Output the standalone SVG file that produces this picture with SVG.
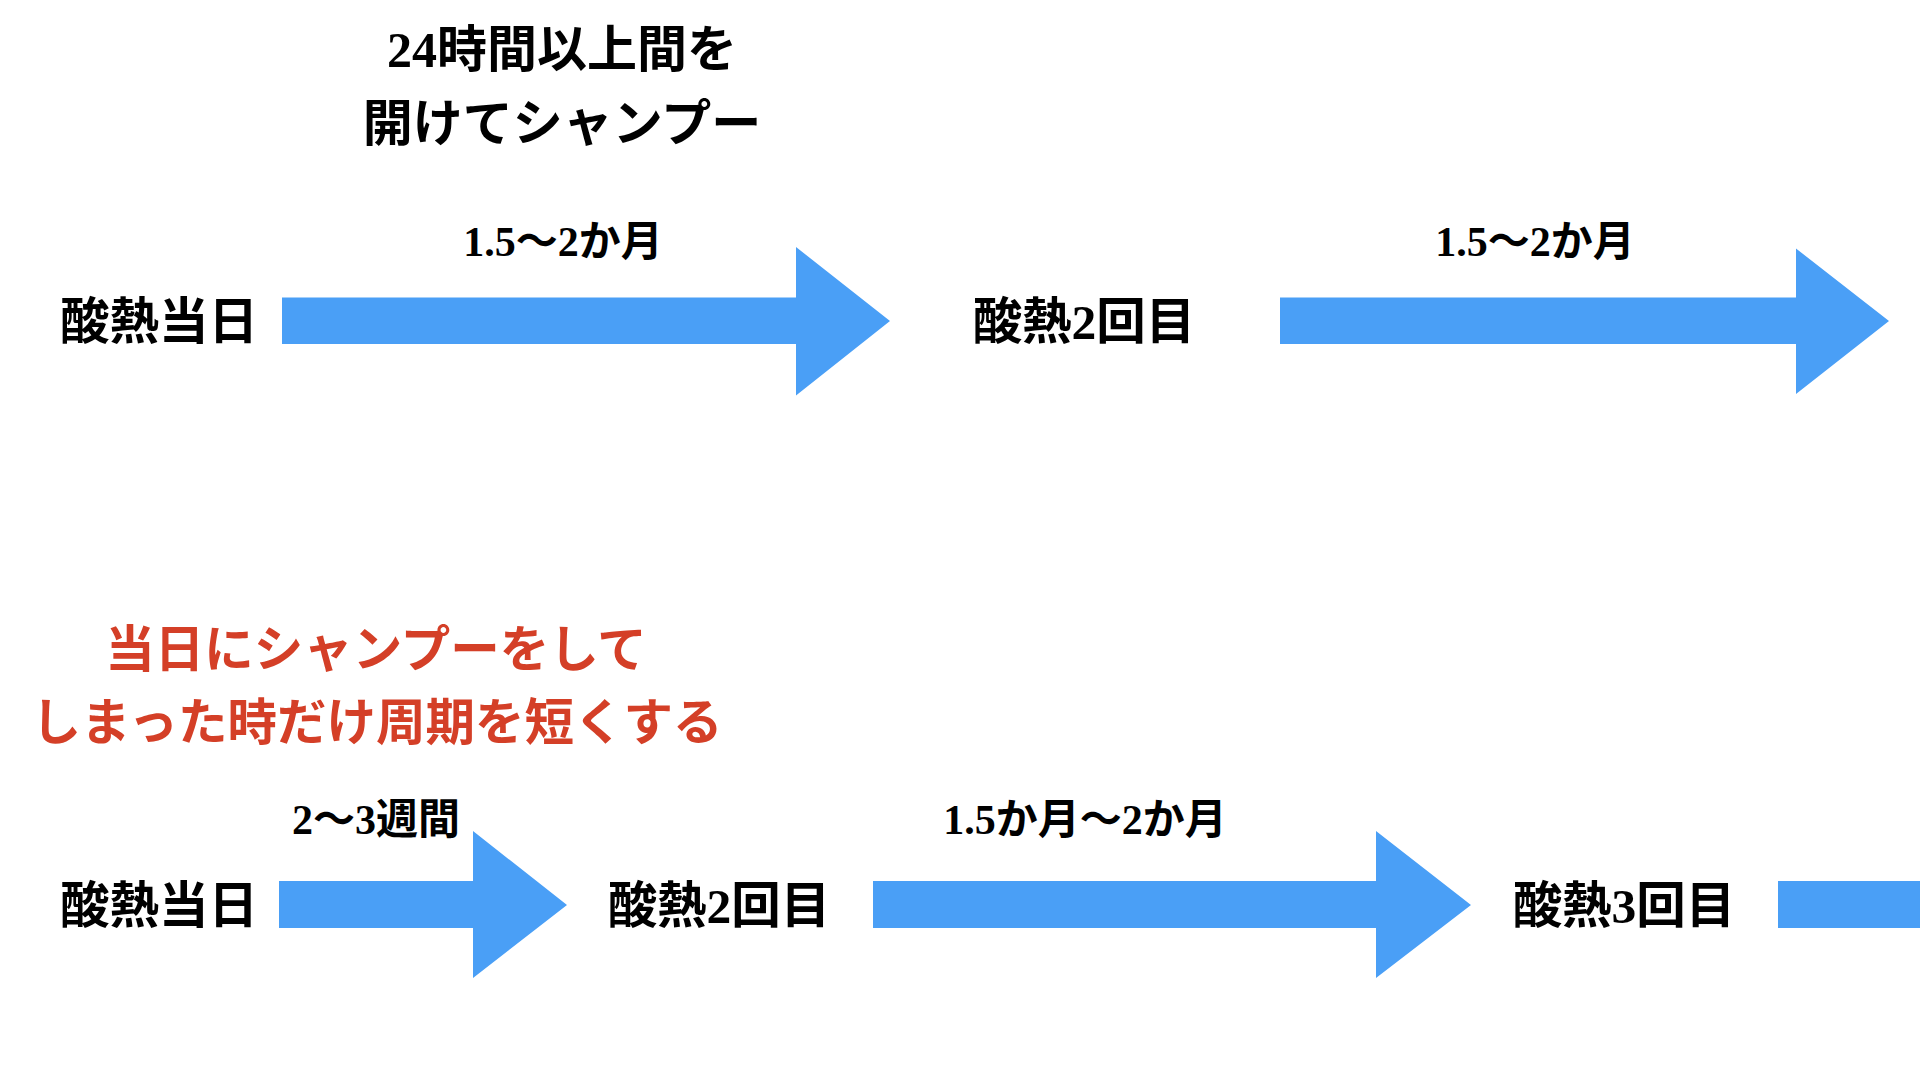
<svg xmlns="http://www.w3.org/2000/svg" width="1920" height="1080" viewBox="0 0 1920 1080">
<style>
text{font-family:"Liberation Serif","Noto Sans CJK JP",serif;font-weight:bold;text-anchor:middle}
.node{font-size:49.5px;fill:#000}
.lbl{font-size:42px;fill:#000}
.title{font-size:50px;fill:#000}
.red{font-size:49.5px;fill:#D43F27}
.arrow{fill:#4A9FF6}
</style>
<rect width="1920" height="1080" fill="#fff"/>
<g id="note-top">
<text class="title" x="562" y="67">24時間以上間を</text>
<text class="title" x="562" y="141">開けてシャンプー</text>
</g>
<g id="note-bottom">
<text class="red" x="376" y="667">当日にシャンプーをして</text>
<text class="red" x="377" y="740">しまった時だけ周期を短くする</text>
</g>
<g id="node-top-1"><text class="node" x="159" y="339">酸熱当日</text></g>
<g id="node-top-2"><text class="node" x="1084" y="339">酸熱2回目</text></g>
<g id="node-bot-1"><text class="node" x="159" y="923">酸熱当日</text></g>
<g id="node-bot-2"><text class="node" x="719" y="923">酸熱2回目</text></g>
<g id="node-bot-3"><text class="node" x="1624" y="923">酸熱3回目</text></g>
<g id="connectors">
<polygon class="arrow" points="282,297.5 796,297.5 796,247 890,321 796,395.5 796,344 282,344"/>
<polygon class="arrow" points="1280,297.5 1796,297.5 1796,248.5 1889,321 1796,394 1796,344 1280,344"/>
<polygon class="arrow" points="279,881 473,881 473,831 567,905 473,978 473,928 279,928"/>
<polygon class="arrow" points="873,881 1376,881 1376,831 1471,905 1376,978 1376,928 873,928"/>
<rect class="arrow" x="1778" y="881" width="150" height="47"/>
<text class="lbl" x="563" y="256">1.5〜2か月</text>
<text class="lbl" x="1535" y="256">1.5〜2か月</text>
<text class="lbl" x="376" y="834">2〜3週間</text>
<text class="lbl" x="1085" y="834">1.5か月〜2か月</text>
</g>
</svg>
